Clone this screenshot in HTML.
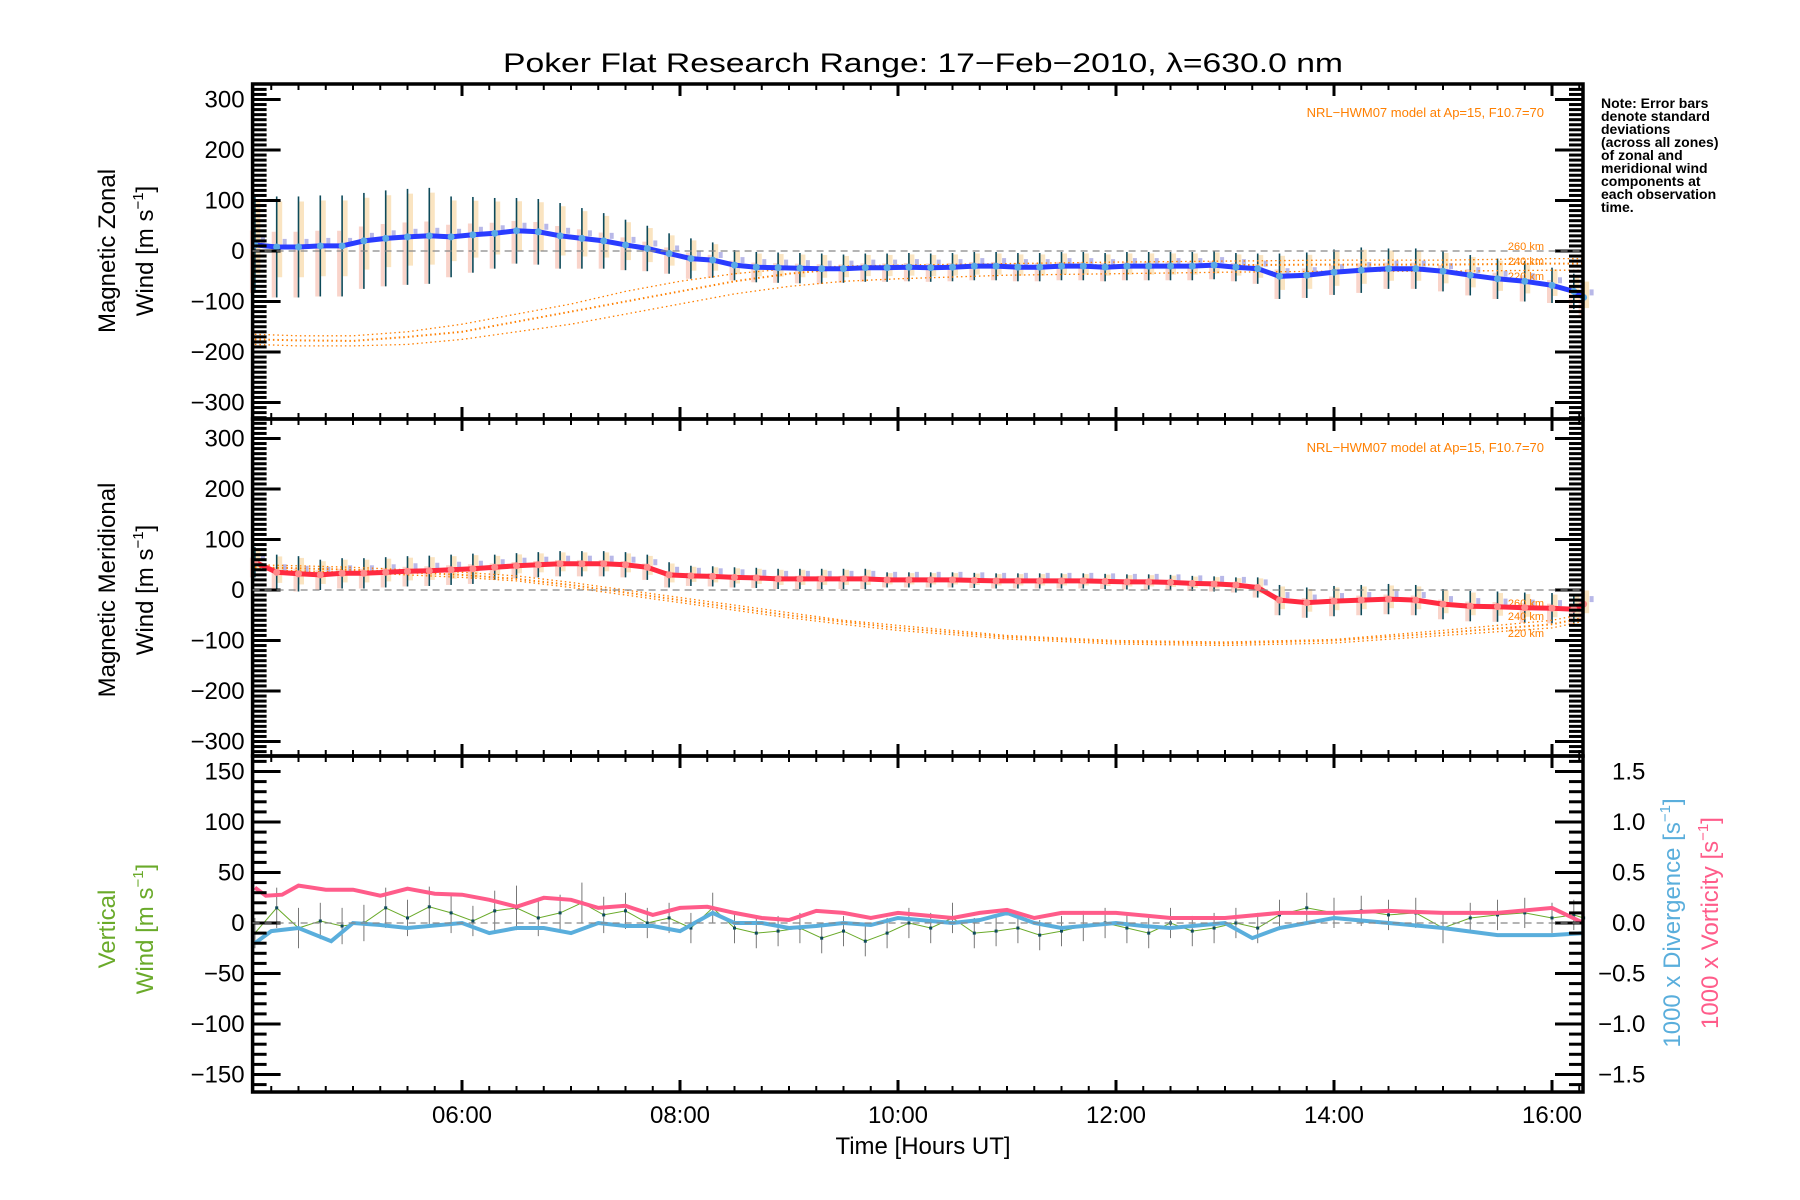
<!DOCTYPE html>
<html><head><meta charset="utf-8"><style>
html,body{margin:0;padding:0;background:#fff}
svg{display:block}
text{font-family:"Liberation Sans",sans-serif}
</style></head><body>
<svg id="chart" xmlns="http://www.w3.org/2000/svg" width="1800" height="1200" viewBox="0 0 1800 1200">
<rect width="1800" height="1200" fill="#fff"/>
<text x="923" y="72" text-anchor="middle" font-size="27" textLength="840" lengthAdjust="spacingAndGlyphs">Poker Flat Research Range: 17−Feb−2010, λ=630.0 nm</text>
<g id="g1"></g>
<g id="g2"></g>
<g id="g3"></g>
<g font-size="14" font-weight="bold">
<text x="1601" y="108">Note: Error bars</text>
<text x="1601" y="121">denote standard</text>
<text x="1601" y="134">deviations</text>
<text x="1601" y="147">(across all zones)</text>
<text x="1601" y="160">of zonal and</text>
<text x="1601" y="173">meridional wind</text>
<text x="1601" y="186">components at</text>
<text x="1601" y="199">each observation</text>
<text x="1601" y="212">time.</text>
</g>
<text x="923" y="1154" text-anchor="middle" font-size="24">Time [Hours UT]</text>
</svg>
<script>
// ---- data ----
const times = [4.1,4.3,4.5,4.7,4.9,5.1,5.3,5.5,5.7,5.9,6.1,6.3,6.5,6.7,6.9,7.1,7.3,7.5,7.7,7.9,8.1,8.3,8.5,8.7,8.9,9.1,9.3,9.5,9.7,9.9,10.1,10.3,10.5,10.7,10.9,11.1,11.3,11.5,11.7,11.9,12.1,12.3,12.5,12.7,12.9,13.1,13.3,13.5,13.75,14.0,14.25,14.5,14.75,15.0,15.25,15.5,15.75,16.0,16.2,16.29];
const zonal = [12,8,8,10,10,20,25,28,30,28,32,35,40,38,30,25,20,12,5,-5,-15,-18,-28,-32,-33,-34,-35,-35,-33,-33,-32,-33,-32,-30,-30,-32,-32,-30,-30,-32,-30,-30,-30,-30,-28,-32,-35,-50,-48,-42,-38,-35,-35,-40,-48,-55,-60,-68,-80,-92];
const zonalSd = [95,100,100,100,100,95,95,95,95,80,75,70,65,65,65,60,55,50,45,40,40,35,30,30,30,30,30,28,28,28,28,28,28,28,28,28,28,28,28,28,28,28,28,28,28,28,30,45,45,45,45,40,40,40,40,40,40,35,35,35];
const merid = [55,35,32,30,33,33,35,37,38,40,42,45,48,50,52,52,52,50,45,30,28,27,25,24,22,22,22,22,22,20,20,20,20,19,18,18,18,18,18,17,16,16,15,13,12,10,5,-20,-25,-22,-20,-18,-20,-28,-32,-33,-35,-36,-38,-28];
const meridSd = [30,35,35,30,30,30,30,30,30,30,30,25,25,25,25,25,25,25,25,25,20,20,20,20,20,20,20,20,20,15,15,15,15,15,15,15,15,15,15,15,15,15,15,15,15,15,20,30,30,30,30,30,30,30,30,30,30,30,30,30];
const modelT = [4.1,4.5,5.0,5.5,6.0,6.5,7.0,7.5,8.0,8.5,9.0,9.5,10,11,12,13,14,15,16,16.29];
const zModel260 = [-165,-168,-168,-160,-145,-125,-105,-80,-60,-45,-35,-30,-28,-25,-22,-20,-18,-18,-15,-15];
const zModel240 = [-175,-177,-178,-170,-160,-140,-120,-100,-80,-60,-45,-35,-32,-30,-28,-28,-27,-27,-25,-25];
const zModel220 = [-185,-188,-188,-185,-175,-160,-145,-125,-105,-85,-70,-60,-55,-48,-45,-42,-40,-40,-38,-38];
const mModel260 = [50,48,45,40,35,28,15,0,-15,-30,-45,-60,-70,-90,-100,-103,-98,-80,-60,-48];
const mModel240 = [45,43,40,35,30,22,10,-5,-20,-35,-50,-63,-75,-93,-103,-106,-100,-85,-68,-55];
const mModel220 = [40,38,35,30,25,18,5,-10,-25,-40,-55,-68,-80,-97,-107,-110,-105,-90,-75,-62];
const vertW = [-10,15,-5,2,-3,0,15,5,16,10,2,12,15,5,10,20,8,12,0,5,-5,15,-5,-10,-8,-5,-15,-8,-18,-10,0,-5,5,-10,-8,-5,-12,-8,-3,0,-5,-10,0,-8,-5,0,-5,8,15,10,12,8,10,-5,5,8,10,5,8,5];
const vertSd = [15,20,20,18,18,18,20,18,20,20,15,20,22,18,18,20,18,18,15,15,15,15,15,15,15,15,15,15,15,15,15,15,15,15,15,15,15,15,15,15,15,15,15,15,15,15,15,15,15,15,15,15,15,15,15,15,15,15,15,15];
const divT = [4.1,4.25,4.5,4.8,5.0,5.25,5.5,6.0,6.25,6.5,6.75,7.0,7.25,7.5,7.75,8.0,8.3,8.5,8.75,9.0,9.25,9.5,9.75,10,10.5,10.75,11,11.25,11.5,12,12.25,12.5,13,13.25,13.5,14,14.5,15,15.5,16,16.29];
const divergence = [-20,-8,-5,-18,0,-2,-5,0,-10,-5,-5,-10,0,-3,-3,-8,10,0,0,-5,-3,0,-2,5,0,3,10,0,-5,0,-3,-5,0,-15,-5,5,0,-5,-12,-12,-10];
const vortT = [4.1,4.2,4.35,4.5,4.75,5.0,5.25,5.5,5.75,6.0,6.25,6.5,6.75,7.0,7.25,7.5,7.75,8.0,8.25,8.5,8.75,9.0,9.25,9.5,9.75,10,10.5,10.75,11,11.25,11.5,12,12.5,13,13.5,14,14.5,15,15.5,16,16.29];
const vorticity = [35,27,28,37,33,33,27,34,29,28,23,16,25,23,15,17,8,15,16,10,5,3,12,10,5,10,5,10,13,5,10,10,5,5,10,10,12,10,10,15,0];

// ---- scales ----
const L=252.6, R=1583;
const X = t => 462 + (t-6)*109;
const Y1 = v => 251 - v*0.505;
const Y2 = v => 590 - v*0.505;
const Y3 = v => 923 - v*1.01;
const NS='http://www.w3.org/2000/svg';
function mk(tag, attrs, parent){const e=document.createElementNS(NS,tag);for(const k in attrs)e.setAttribute(k,attrs[k]);parent.appendChild(e);return e;}
function poly(ts, vs, Y){return ts.map((t,i)=>X(t).toFixed(1)+','+Y(vs[i]).toFixed(1)).join(' ');}

function axes(g, top, bot, Y, vmin, vmax, major, minor, labels, fmt){
  // frame
  const f=mk('rect',{x:L,y:top,width:R-L,height:bot-top,fill:'none',stroke:'#000','stroke-width':3.5},g);
  
  
  for(let v=vmin; v<=vmax+1e-6; v+=minor){
    const isMaj = Math.abs(Math.round(v/major)*major - v) < 1e-6;
    const len = isMaj?28:14, y=Y(v);
    if(y<top+1||y>bot-1) continue;
    mk('line',{x1:L,x2:L+len,y1:y,y2:y,stroke:'#000','stroke-width':3},g);
    mk('line',{x1:R,x2:R-len,y1:y,y2:y,stroke:'#000','stroke-width':3},g);
    if(isMaj && labels){
      const tx=mk('text',{x:L-8,y:y+8,'text-anchor':'end','font-size':24},g);
      tx.textContent = fmt(v);
      
      
    }
  }
  for(let t=4.25; t<16.3; t+=0.25){
    const maj = Math.abs(t%2)<1e-6 && t>=6; const len = maj?12:6;
    mk('line',{x1:X(t),x2:X(t),y1:top,y2:top+len,stroke:'#000','stroke-width':maj?3:2},g);
    mk('line',{x1:X(t),x2:X(t),y1:bot,y2:bot-len,stroke:'#000','stroke-width':maj?3:2},g);
  }
  mk('line',{x1:L,x2:R,y1:Y(0),y2:Y(0),stroke:'#888','stroke-width':1.3,'stroke-dasharray':'7,5'},g);
}
const fmtV = v => (v<0?'−':'')+Math.abs(Math.round(v));

function ylab(g,x,y,txt,color,name){
  const t=mk('text',{x:x,y:y,transform:`rotate(-90 ${x} ${y})`,'text-anchor':'middle','font-size':24,fill:color},g);
  t.innerHTML=txt;
  
  
}

function windPanel(g, top, bot, Y, vals, sds, m1, m2, m3, lineColor, dotColor, labelY){
  // pastel error bars
  times.forEach((t,i)=>{
    const x=X(t);
    mk('line',{x1:x+3,x2:x+3,y1:Y(vals[i]+sds[i]*0.9),y2:Y(vals[i]-sds[i]*0.6),stroke:'#f9d9a8','stroke-width':5,opacity:0.7},g);
    mk('line',{x1:x-3,x2:x-3,y1:Y(vals[i]+sds[i]*0.3),y2:Y(vals[i]-sds[i]*1.0),stroke:'#f6b8a8','stroke-width':4,opacity:0.6},g);
    mk('rect',{x:x+6,y:Y(vals[i]+10)-3,width:4,height:6,fill:'#b8b8e8'},g);
  });
  times.forEach((t,i)=>{
    const b=mk('line',{x1:X(t),x2:X(t),y1:Y(vals[i]+sds[i]),y2:Y(vals[i]-sds[i]),stroke:'#0d4a5a','stroke-width':1.6},g);
    
    
  });
  [m1,m2,m3].forEach((m,k)=>{
    const p=mk('polyline',{points:poly(modelT,m,Y),fill:'none',stroke:'#ff7f00','stroke-width':k==1?2:1.3,'stroke-dasharray':'1.5,3'},g);
    
    
  });
  ['260 km','240 km','220 km'].forEach((s,k)=>{
    const tx=mk('text',{x:1544,y:labelY[k],'text-anchor':'end','font-size':11,fill:'#ff7f00'},g);
    tx.textContent=s;
    
    
  });
  const ln=mk('polyline',{points:poly(times,vals,Y),fill:'none',stroke:lineColor,'stroke-width':5},g);
  
  
  times.forEach((t,i)=>{
    const c=mk('circle',{cx:X(t),cy:Y(vals[i]),r:3.5,fill:dotColor},g);
    
    
  });
  const nt=mk('text',{x:1544,y:top+33,'text-anchor':'end','font-size':13,fill:'#ff7f00'},g);
  nt.textContent='NRL−HWM07 model at Ap=15, F10.7=70';
  
  
  axes(g, top, bot, Y, -330, 330, 100, 10, true, fmtV);
}

const g1=document.getElementById('g1'), g2=document.getElementById('g2'), g3=document.getElementById('g3');
windPanel(g1, 84, 419, Y1, zonal, zonalSd, zModel260, zModel240, zModel220, '#2a3cff', '#5aa9e6', [250,265,280]);
ylab(g1,115,251,'Magnetic Zonal','#000','y-axis-title-zonal');
ylab(g1,153,251,'Wind [m s<tspan font-size="15" dy="-10">−1</tspan><tspan dy="10">]</tspan>','#000','y-axis-units-zonal');
windPanel(g2, 419, 756, Y2, merid, meridSd, mModel260, mModel240, mModel220, '#ff2a40', '#ff8a8a', [607,620,637]);
ylab(g2,115,590,'Magnetic Meridional','#000','y-axis-title-meridional');
ylab(g2,153,590,'Wind [m s<tspan font-size="15" dy="-10">−1</tspan><tspan dy="10">]</tspan>','#000','y-axis-units-meridional');

// panel 3
times.forEach((t,i)=>{
  const b=mk('line',{x1:X(t),x2:X(t),y1:Y3(vertW[i]+vertSd[i]),y2:Y3(vertW[i]-vertSd[i]),stroke:'#777','stroke-width':1},g3);
  
  
});
const vl=mk('polyline',{points:poly(times,vertW,Y3),fill:'none',stroke:'#6aaa2a','stroke-width':1},g3);


times.forEach((t,i)=>{
  const r=mk('rect',{x:X(t)-1.5,y:Y3(vertW[i])-1.5,width:3,height:3,fill:'#0d4a5a'},g3);
  
  
});
const dl=mk('polyline',{points:poly(divT,divergence,Y3),fill:'none',stroke:'#5aaedc','stroke-width':4},g3);


const pl=mk('polyline',{points:poly(vortT,vorticity,Y3),fill:'none',stroke:'#ff5c8a','stroke-width':4},g3);


axes(g3, 756, 1092, Y3, -160, 160, 50, 10, true, fmtV);
[1.5,1.0,0.5,0.0,-0.5,-1.0,-1.5].forEach(v=>{
  const tx=mk('text',{x:v<0?1598:1612,y:Y3(v*100)+8,'font-size':24},g3);
  tx.textContent=(v<0?'−':'')+Math.abs(v).toFixed(1);
  
  
});
[6,8,10,12,14,16].forEach(h=>{
  const tx=mk('text',{x:X(h),y:1123,'text-anchor':'middle','font-size':24},g3);
  tx.textContent=(h<10?'0':'')+h+':00';
  
  
});
ylab(g3,115,929,'Vertical','#6aaa2a','y-axis-title-vertical');
ylab(g3,153,929,'Wind [m s<tspan font-size="15" dy="-10">−1</tspan><tspan dy="10">]</tspan>','#6aaa2a','y-axis-units-vertical');
ylab(g3,1680,923,'1000 x Divergence [s<tspan font-size="15" dy="-10">−1</tspan><tspan dy="10">]</tspan>','#5aaedc','divergence-axis-title');
ylab(g3,1718,923,'1000 x Vorticity [s<tspan font-size="15" dy="-10">−1</tspan><tspan dy="10">]</tspan>','#ff5c8a','vorticity-axis-title');
</script>
</body></html>
